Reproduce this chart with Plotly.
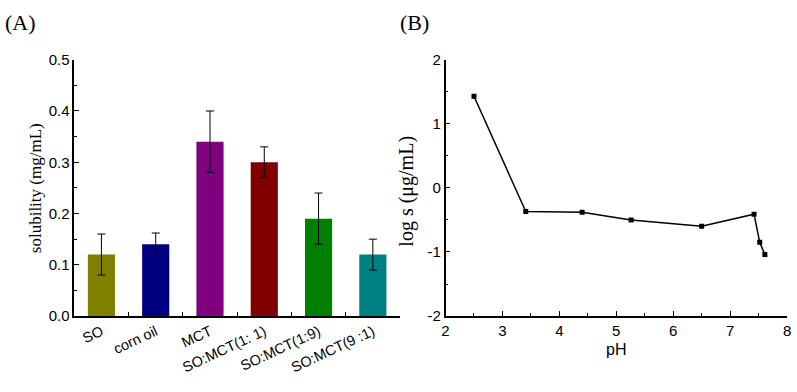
import plotly.graph_objects as go

# Panel A data
oils = ["SO", "corn oil", "MCT", "SO:MCT(1: 1)", "SO:MCT(1:9)", "SO:MCT(9 :1)"]
solubility = [0.12, 0.14, 0.34, 0.30, 0.19, 0.12]
solubility_err = [0.04, 0.022, 0.06, 0.03, 0.05, 0.03]
bar_colors = ["#808000", "#000080", "#800080", "#800000", "#008000", "#008080"]

# Panel B data
ph = [2.5, 3.41, 4.4, 5.26, 6.5, 7.42, 7.52, 7.61]
log_s = [1.43, -0.37, -0.38, -0.50, -0.60, -0.41, -0.85, -1.04]
logs_ticks = [-2, -1, 0, 1, 2]
logs_ticktext = ["-2", "-1", "0", "1", "2"]

W, H = 797, 392
fx = lambda px: px / W
fy = lambda py: 1 - py / H

SANS = "Liberation Sans"
SERIF = "Liberation Serif"

fig = go.Figure()

fig.add_trace(go.Bar(
    x=oils, y=solubility,
    marker=dict(color=bar_colors, line=dict(width=0)),
    error_y=dict(type="data", array=solubility_err, color="black", thickness=1, width=4),
    xaxis="x", yaxis="y", showlegend=False,
))

fig.add_trace(go.Scatter(
    x=ph, y=log_s, mode="lines+markers",
    line=dict(color="black", width=1.5),
    marker=dict(symbol="square", size=5, color="black"),
    xaxis="x2", yaxis="y2", showlegend=False,
))

tickfont = dict(family=SANS, size=15, color="black")
axis_common = dict(
    showline=True, linecolor="black", linewidth=1.5, showgrid=False, zeroline=False,
    ticks="inside", ticklen=5, tickwidth=1.2, tickcolor="black", tickfont=tickfont,
)

fig.update_layout(
    width=W, height=H,
    margin=dict(l=0, r=0, t=0, b=0),
    paper_bgcolor="white", plot_bgcolor="white",
    font=dict(family=SANS, color="black"),
    bargap=0.5,
    xaxis=dict(
        domain=[fx(71), fx(400)], anchor="y", range=[-0.5, 5.5],
        tickson="boundaries", tickangle=-25,
        **{**axis_common, "ticklen": 4, "tickfont": dict(family=SANS, size=14.5, color="black")},
    ),
    yaxis=dict(
        domain=[fy(321), fy(53)], anchor="x", range=[0, 0.5], dtick=0.1, tickformat=".1f",
        minor=dict(ticks="inside", ticklen=3, dtick=0.05, tickcolor="black"),
        **axis_common,
    ),
    xaxis2=dict(
        domain=[fx(446), fx(791)], anchor="y2", range=[2, 8], dtick=1,
        minor=dict(ticks="inside", ticklen=3, dtick=0.5, tickcolor="black"),
        title=dict(text="pH", font=dict(family=SANS, size=16, color="black"), standoff=6),
        **axis_common,
    ),
    yaxis2=dict(
        domain=[fy(321), fy(53)], anchor="x2", range=[-2, 2],
        tickvals=logs_ticks, ticktext=logs_ticktext,
        minor=dict(ticks="inside", ticklen=3, dtick=0.5, tickcolor="black"),
        **axis_common,
    ),
    annotations=[
        dict(text="(A)", x=0, y=1, xref="paper", yref="paper", xanchor="left", yanchor="top",
             showarrow=False, borderpad=0, font=dict(family=SERIF, size=22, color="black")),
        dict(text="(B)", x=fx(399), y=1, xref="paper", yref="paper", xanchor="left", yanchor="top",
             showarrow=False, borderpad=0, font=dict(family=SERIF, size=22, color="black")),
        dict(text="solubility (mg/mL)", x=fx(21), y=fy(187), xref="paper", yref="paper",
             textangle=-90, showarrow=False,
             font=dict(family=SERIF, size=17, color="black")),
        dict(text="log s (μg/mL)", x=fx(407), y=fy(190), xref="paper", yref="paper",
             textangle=-90, showarrow=False,
             font=dict(family=SERIF, size=20, color="black")),
    ],
)

# page body has a default 8px margin; remove it so the figure sits at the window corner
fig.write_html("out.html", config={"displayModeBar": False},
               post_script="document.body.style.margin='0';")
